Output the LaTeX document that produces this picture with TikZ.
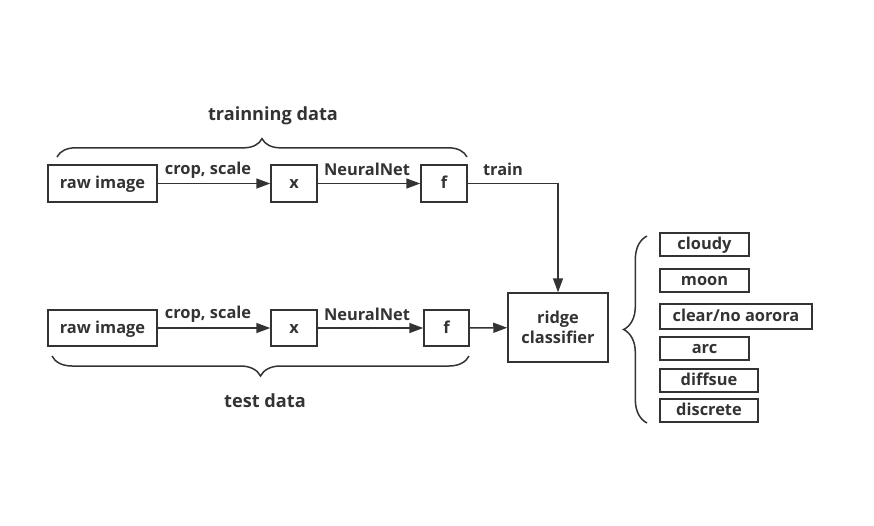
\documentclass[tikz,border=0pt]{standalone}
\usepackage{fontspec}
\setmainfont{Open Sans}
\usetikzlibrary{arrows.meta,decorations.pathreplacing}
\definecolor{ink}{HTML}{333333}
\tikzset{
	box/.style={draw=ink, line width=0.045cm, text=ink, font=\bfseries\fontsize{14}{15}\selectfont, inner sep=0pt, align=center, text height=1.9ex, text depth=0.3ex},
	lbl/.style={text=ink, font=\bfseries\fontsize{14}{15}\selectfont, inner sep=0pt},
	flow/.style={draw=ink, line width=0.045cm, -{Triangle[length=0.42cm, width=0.3cm]}},
	curly/.style={draw=ink, line width=0.045cm, decorate, decoration={brace, amplitude=#1}}
}

\begin{document}
\begin{tikzpicture}[x=0.03cm, y=-0.03cm]
			%%%%% START %%%%%
			\useasboundingbox (0, 0) rectangle (874, 525);
			
			\node[box, minimum width=3.27cm, minimum height=1.11cm] (rawA) at (102.5, 183.5) {raw image};
			\node[box, minimum width=1.38cm, minimum height=1.11cm] (xA) at (294, 183.5) {x};
			\node[box, minimum width=1.38cm, minimum height=1.11cm] (fA) at (444, 183.5) {f};
			
			\node[box, minimum width=3.27cm, minimum height=1.08cm] (rawB) at (102.5, 328) {raw image};
			\node[box, minimum width=1.38cm, minimum height=1.08cm] (xB) at (294, 328) {x};
			\node[box, minimum width=1.35cm, minimum height=1.08cm] (fB) at (446.5, 328) {f};
			
			\node[box, minimum width=3cm, minimum height=2.07cm, text height=, text depth=] (ridge) at (558, 327.5) {ridge\\[2pt]classifier};
			
			\draw[flow] (rawA) -- (xA);
			\draw[flow] (xA) -- (fA);
			\draw[flow] (rawB) -- (xB);
			\draw[flow] (xB) -- (fB);
			\draw[flow] (fB) -- (ridge);
			\draw[flow] (fA.east) -| (ridge.north);
			
			\node[lbl] (cropA) at (208, 170) {crop, scale};
			\node[lbl] (netA) at (367, 169) {NeuralNet};
			\node[lbl] (train) at (503, 169) {train};
			\node[lbl] (cropB) at (208, 314) {crop, scale};
			\node[lbl] (netB) at (367, 314) {NeuralNet};
			
			\draw[curly=0.55cm] (57, 157) -- (467, 157);
			\node[lbl, font=\bfseries\fontsize{15.5}{17}\selectfont] (trainData) at (273, 116) {trainning data};
			\draw[curly=0.6cm] (469, 356) -- (52, 356);
			\node[lbl, font=\bfseries\fontsize{15.5}{17}\selectfont] (testData) at (265, 401) {test data};
			
			%%%%% classes %%%%%
			\draw[curly=0.7cm] (647, 423) -- (647, 236);
			\node[box, minimum width=2.67cm, minimum height=0.69cm] (cloudy) at (704.5, 244.5) {cloudy};
			\node[box, minimum width=2.67cm, minimum height=0.69cm] (moon) at (704.5, 280.5) {moon};
			\node[box, minimum width=4.56cm, minimum height=0.75cm] (clear) at (736, 316.5) {clear/no aorora};
			\node[box, minimum width=2.67cm, minimum height=0.69cm] (arc) at (704.5, 348.5) {arc};
			\node[box, minimum width=2.94cm, minimum height=0.69cm] (diffsue) at (709, 380.5) {diffsue};
			\node[box, minimum width=2.94cm, minimum height=0.69cm] (discrete) at (709, 410.5) {discrete};
			
			%%%%% END %%%%%
\end{tikzpicture}
\end{document}
